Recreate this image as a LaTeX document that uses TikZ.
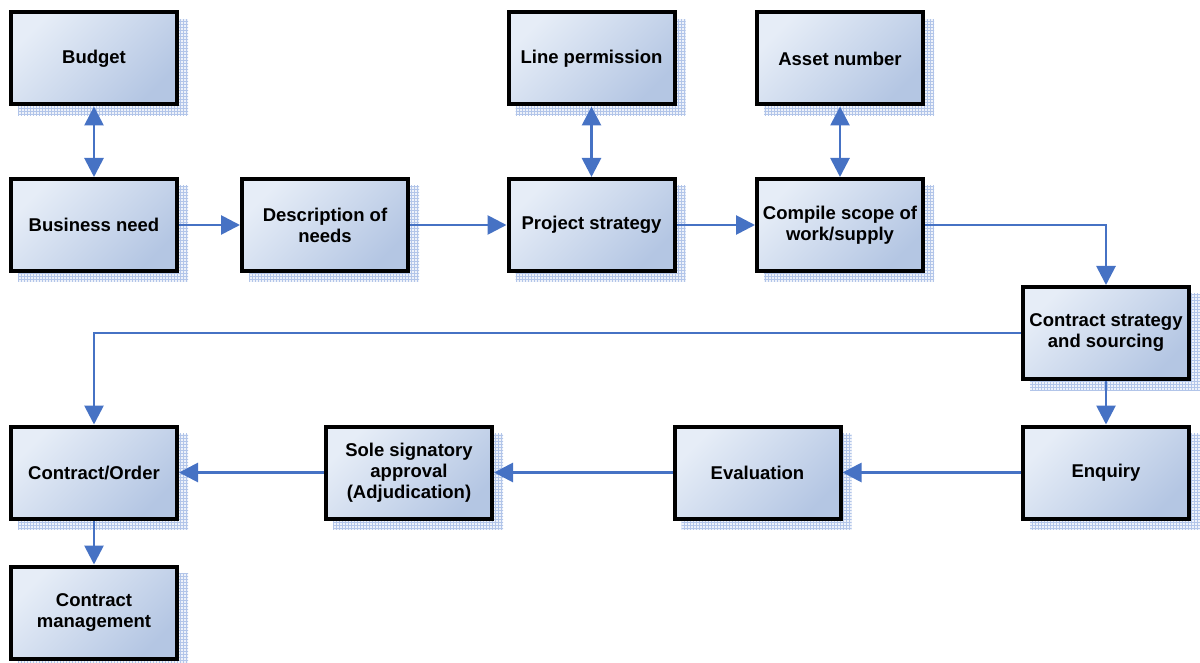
\documentclass[tikz,border=0pt]{standalone}
\usepackage{fontspec}
\setmainfont{Liberation Sans}
\usetikzlibrary{arrows.meta,patterns,backgrounds}
\definecolor{flow}{RGB}{70,114,196}
\definecolor{boxlight}{RGB}{230,237,247}
\definecolor{boxdark}{RGB}{180,198,227}
\definecolor{shadegrid}{RGB}{178,197,233}
\definecolor{shadebase}{RGB}{238,242,250}
\tikzset{
  tipshape/.style={Triangle[length=19pt,width=19pt]},
  stepbox/.style={draw=black, line width=4pt, minimum width=166pt, minimum height=92pt,
    top color=boxlight, bottom color=boxdark, shading angle=45,
    align=center, inner sep=2pt,
    font=\fontsize{18.5}{21}\selectfont\bfseries},
  boxshadow/.style={fill=shadebase, postaction={pattern=grid, pattern color=shadegrid}},
  flowline/.style={draw=flow, line width=2.8pt,
    arrows={-Triangle[length=19pt,width=19pt]}},
  twoway/.style={draw=flow, line width=2.8pt,
    arrows={Triangle[length=19pt,width=19pt]-Triangle[length=19pt,width=19pt]}}
}
\begin{document}
\begin{tikzpicture}[x=1pt,y=-1pt]
\useasboundingbox (0,0) rectangle (1200,663);

% process boxes
\node[stepbox] (budget)   at (94,58.5)   {Budget};
\node[stepbox] (business) at (94,225)    {Business need};
\node[stepbox] (descr)    at (325,225)   {Description of\\needs};
\node[stepbox] (lineperm) at (591.5,58.5) {Line permission};
\node[stepbox] (project)  at (591.5,225) {Project strategy};
\node[stepbox] (asset)    at (840,58.5)  {Asset number};
\node[stepbox] (scope)    at (840,225)   {Compile scope of\\work/supply};
\node[stepbox] (cstrat)   at (1106,333)  {Contract strategy\\and sourcing};
\node[stepbox] (enquiry)  at (1106,472.5) {Enquiry};
\node[stepbox] (evaluate) at (757.5,472.5) {Evaluation};
\node[stepbox] (sole)     at (409,472.5) {Sole signatory\\approval\\(Adjudication)};
\node[stepbox] (order)    at (94,472.5)  {Contract/Order};
\node[stepbox] (manage)   at (94,612.5)  {Contract\\management};

\begin{scope}[on background layer]
  % hatched drop shadows
  \foreach \n in {budget,business,descr,lineperm,project,asset,scope,cstrat,enquiry,evaluate,sole,order,manage}
    \path[boxshadow] ([shift={(9,9)}]\n.north west) rectangle ([shift={(9,9)}]\n.south east);

  % connectors
  \draw[twoway] (budget) -- (business);
  \draw[twoway] (lineperm) -- (project);
  \draw[twoway] (asset) -- (scope);
  \draw[flowline] (business) -- (descr);
  \draw[flowline] (descr) -- (project);
  \draw[flowline] (project) -- (scope);
  \draw[flowline] (scope.east) -| (cstrat.north);
  \draw[flowline] (cstrat.west) -| (order.north);
  \draw[flowline] (cstrat) -- (enquiry);
  \draw[flowline] (enquiry) -- (evaluate);
  \draw[flowline] (evaluate) -- (sole);
  \draw[flowline] (sole) -- (order);
  \draw[flowline] (order) -- (manage);
\end{scope}
\end{tikzpicture}
\end{document}
